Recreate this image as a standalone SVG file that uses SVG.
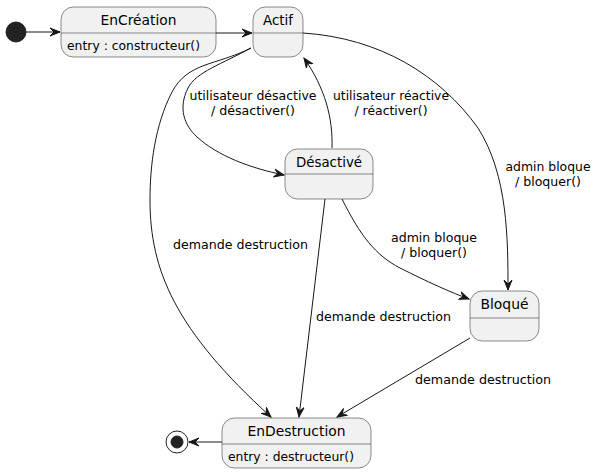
<svg xmlns="http://www.w3.org/2000/svg" width="599" height="473" viewBox="0 0 599 473">
<style>
.st{fill:#F1F1F1;stroke:#181818;stroke-width:0.5}
.dv{stroke:#181818;stroke-width:0.5}
.ti{font-family:"DejaVu Sans",sans-serif;font-size:14px;fill:#000;text-anchor:middle}
.bd{font-family:"DejaVu Sans",sans-serif;font-size:12px;fill:#000}
.lb{font-family:"DejaVu Sans",sans-serif;font-size:12px;fill:#000;text-anchor:middle}
.cn{fill:none;stroke:#181818;stroke-width:1;marker-end:url(#ah)}
</style>
<defs>
<marker id="ah" markerUnits="userSpaceOnUse" markerWidth="11" markerHeight="10" refX="10" refY="5" orient="auto" viewBox="0 0 11 10">
<path d="M0,1 L10,5 L0,9 L4,5 Z" fill="#181818" stroke="#181818" stroke-width="1"/>
</marker>
</defs>
<rect width="599" height="473" fill="#FFFFFF"/>
<g id="connectors">
<path class="cn" d="M26,32 L60,32"/>
<path class="cn" d="M216,33 L252,33"/>
<path class="cn" d="M251,48 C222,64 196,72 188,88 C178,108 184,125 197,137 C218,156 250,168 284,175"/>
<path class="cn" d="M332,148 C333,118 325,88 304,58"/>
<path class="cn" d="M303,33 C380,38 440,75 478,128 C508,175 508,240 508,290"/>
<path class="cn" d="M342,199 C360,235 375,255 400,268 C430,283 450,292 469,299"/>
<path class="cn" d="M325,199 L299,417"/>
<path class="cn" d="M251,48 C215,66 188,62 172,92 C155,125 150,165 150,200 C150,270 175,330 271,417"/>
<path class="cn" d="M470,338 L337,417"/>
<path class="cn" d="M222,442 L189,442"/>
</g>
<g id="labels">
<text class="lb" x="253" y="100" textLength="127" lengthAdjust="spacingAndGlyphs">utilisateur désactive</text>
<text class="lb" x="253" y="115" textLength="84" lengthAdjust="spacingAndGlyphs">/ désactiver()</text>
<text class="lb" x="391" y="100" textLength="116" lengthAdjust="spacingAndGlyphs">utilisateur réactive</text>
<text class="lb" x="391" y="115" textLength="73" lengthAdjust="spacingAndGlyphs">/ réactiver()</text>
<text class="lb" x="548" y="171" textLength="85" lengthAdjust="spacingAndGlyphs">admin bloque</text>
<text class="lb" x="548" y="186" textLength="66" lengthAdjust="spacingAndGlyphs">/ bloquer()</text>
<text class="lb" x="434" y="242" textLength="86" lengthAdjust="spacingAndGlyphs">admin bloque</text>
<text class="lb" x="434" y="257" textLength="66" lengthAdjust="spacingAndGlyphs">/ bloquer()</text>
<text class="bd" x="316" y="321" textLength="135" lengthAdjust="spacingAndGlyphs">demande destruction</text>
<text class="bd" x="173" y="249" textLength="135" lengthAdjust="spacingAndGlyphs">demande destruction</text>
<text class="bd" x="415" y="384" textLength="136" lengthAdjust="spacingAndGlyphs">demande destruction</text>
</g>
<g id="initial"><circle cx="16" cy="32" r="10" fill="#222222" stroke="#222222"/></g>
<g id="EnCreation">
<rect class="st" x="61" y="7" width="155" height="50" rx="12.5"/>
<line class="dv" x1="61" y1="33" x2="216" y2="33"/>
<text class="ti" x="138.5" y="25" textLength="76" lengthAdjust="spacingAndGlyphs">EnCréation</text>
<text class="bd" x="67" y="50" textLength="133" lengthAdjust="spacingAndGlyphs">entry : constructeur()</text>
</g>
<g id="Actif">
<rect class="st" x="253" y="7" width="50" height="50" rx="12.5"/>
<line class="dv" x1="253" y1="33" x2="303" y2="33"/>
<text class="ti" x="278" y="25" textLength="30" lengthAdjust="spacingAndGlyphs">Actif</text>
</g>
<g id="Desactive">
<rect class="st" x="285" y="149" width="88" height="50" rx="12.5"/>
<line class="dv" x1="285" y1="174" x2="373" y2="174"/>
<text class="ti" x="329" y="167" textLength="66" lengthAdjust="spacingAndGlyphs">Désactivé</text>
</g>
<g id="Bloque">
<rect class="st" x="470" y="291" width="69" height="50" rx="12.5"/>
<line class="dv" x1="470" y1="318" x2="539" y2="318"/>
<text class="ti" x="504.5" y="309" textLength="48" lengthAdjust="spacingAndGlyphs">Bloqué</text>
</g>
<g id="EnDestruction">
<rect class="st" x="222" y="418" width="149" height="50" rx="12.5"/>
<line class="dv" x1="222" y1="444" x2="371" y2="444"/>
<text class="ti" x="296.5" y="436" textLength="98" lengthAdjust="spacingAndGlyphs">EnDestruction</text>
<text class="bd" x="228" y="461" textLength="126" lengthAdjust="spacingAndGlyphs">entry : destructeur()</text>
</g>
<g id="final">
<circle cx="177" cy="442" r="11" fill="none" stroke="#222222" stroke-width="1"/>
<circle cx="177" cy="442" r="6" fill="#222222" stroke="#222222"/>
</g>
</svg>
